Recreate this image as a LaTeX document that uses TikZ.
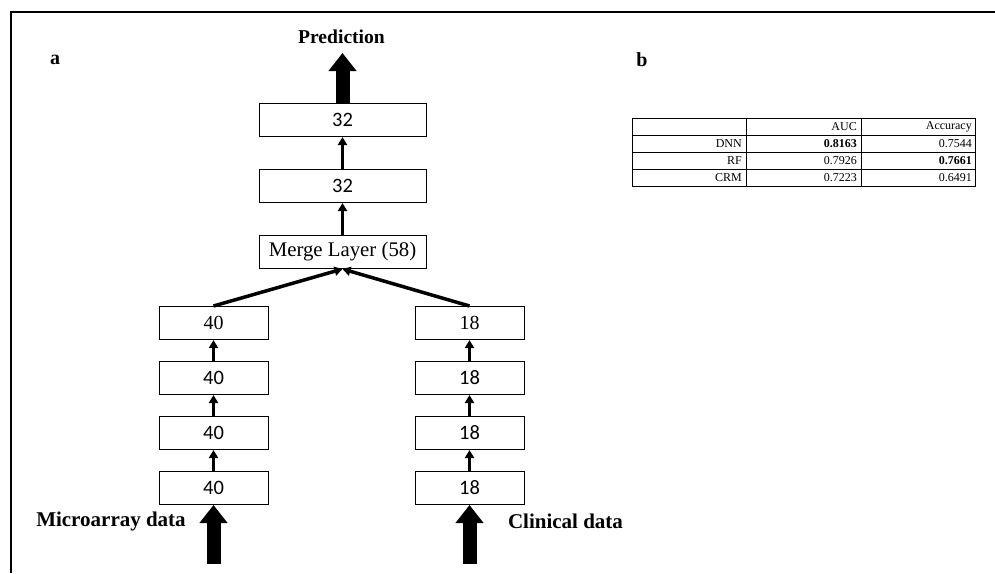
\documentclass[tikz,border=0pt]{standalone}
\usepackage{fontspec}
\setmainfont{Liberation Serif}
\newfontfamily\boxfont{Carlito}
\usetikzlibrary{arrows.meta,positioning,calc}

\tikzset{
  layer/.style={draw,line width=1pt,minimum width=109pt,minimum height=33pt,inner sep=0pt,font=\boxfont\fontsize{20.5}{20.5}\selectfont},
  seriflayer/.style={layer,font=\fontsize{20}{20}\selectfont},
  widelayer/.style={layer,minimum width=167pt},
  thinarrow/.style={-{Triangle[width=9pt,length=8pt]},line width=3pt},
  fatarrow/.style={-{Triangle[width=27pt,length=18pt]},line width=14pt},
  biglabel/.style={font=\bfseries\fontsize{21}{21}\selectfont,inner sep=0pt},
  cell/.style={anchor=east,font=\fontsize{12}{12}\selectfont,inner sep=0pt}
}

\begin{document}
\begin{tikzpicture}[x=1pt,y=-1pt]
\useasboundingbox (0,0) rectangle (995,573);
\draw[line width=2.5pt] (11,573) -- (11,12) -- (995,12);

\node[biglabel,font=\bfseries\fontsize{20}{20}\selectfont] (panela) at (55,60) {a};
\node[biglabel,font=\bfseries\fontsize{20}{20}\selectfont] (panelb) at (642,60) {b};

% network
\node[widelayer] (out2) at (342.5,120) {32};
\node[widelayer] (out1) at (342.5,186) {32};
\node[widelayer,font=\fontsize{20.8}{20.8}\selectfont] (merge) at (342.5,252) {Merge Layer (58)};
\node[seriflayer] (mic1) at (213.5,323) {40};
\node[layer] (mic2) at (213.5,378) {40};
\node[layer] (mic3) at (213.5,433) {40};
\node[layer] (mic4) at (213.5,488) {40};
\node[seriflayer] (cli1) at (469.5,323) {18};
\node[layer] (cli2) at (469.5,378) {18};
\node[layer] (cli3) at (469.5,433) {18};
\node[layer] (cli4) at (469.5,488) {18};

\node[biglabel,font=\bfseries\fontsize{19.6}{19.6}\selectfont] (pred) at (341.5,37) {Prediction};
\node[biglabel] (micin) at (111,521) {Microarray data};
\node[biglabel] (cliin) at (565.5,521) {Clinical data};
\coordinate (predtip) at (342.5,53);
\coordinate (micfoot) at (213.5,564);
\coordinate (clifoot) at (469.5,564);

\draw[fatarrow] (out2.north) -- (predtip);
\draw[fatarrow] (micfoot) -- (mic4.south);
\draw[fatarrow] (clifoot) -- (cli4.south);

\draw[thinarrow] (out1.north) -- (out2.south);
\draw[thinarrow] (merge.north) -- (out1.south);
\draw[thinarrow,line width=3.5pt] (mic1.north) -- (merge.south);
\draw[thinarrow,line width=3.5pt] (cli1.north) -- (merge.south);
\draw[thinarrow] (mic2.north) -- (mic1.south);
\draw[thinarrow] (mic3.north) -- (mic2.south);
\draw[thinarrow] (mic4.north) -- (mic3.south);
\draw[thinarrow] (cli2.north) -- (cli1.south);
\draw[thinarrow] (cli3.north) -- (cli2.south);
\draw[thinarrow] (cli4.north) -- (cli3.south);

% results table
\draw[line width=0.8pt] (632,118) rectangle (975,186);
\draw[line width=0.6pt] (746,118) -- (746,186);
\draw[line width=0.6pt] (861,118) -- (861,186);
\draw[line width=0.6pt] (632,135) -- (975,135);
\draw[line width=0.6pt] (632,152) -- (975,152);
\draw[line width=0.6pt] (632,169) -- (975,169);
\node[cell] (hauc) at (857,127) {AUC};
\node[cell] (hacc) at (972,127) {Accuracy};
\node[cell] (rdnn) at (742,144) {DNN};
\node[cell] (dnnauc) at (857,144) {\bfseries 0.8163};
\node[cell] (dnnacc) at (972,144) {0.7544};
\node[cell] (rrf) at (742,161) {RF};
\node[cell] (rfauc) at (857,161) {0.7926};
\node[cell] (rfacc) at (972,161) {\bfseries 0.7661};
\node[cell] (rcrm) at (742,178) {CRM};
\node[cell] (crmauc) at (857,178) {0.7223};
\node[cell] (crmacc) at (972,178) {0.6491};
\end{tikzpicture}
\end{document}
